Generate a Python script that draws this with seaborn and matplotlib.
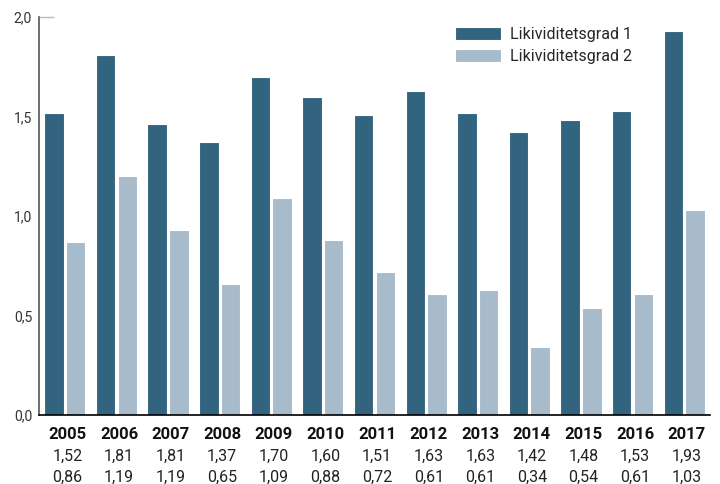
import matplotlib
matplotlib.use("Agg")
import matplotlib.pyplot as plt
import matplotlib.transforms as mtransforms
import seaborn as sns
import pandas as pd

years = ["2005", "2006", "2007", "2008", "2009", "2010", "2011",
         "2012", "2013", "2014", "2015", "2016", "2017"]
lg1 = [1.52, 1.81, 1.46, 1.37, 1.70, 1.60, 1.51, 1.63, 1.52, 1.42, 1.48, 1.53, 1.93]
lg2 = [0.87, 1.20, 0.93, 0.66, 1.09, 0.88, 0.72, 0.61, 0.63, 0.34, 0.54, 0.61, 1.03]
lg1_labels = ["1,52", "1,81", "1,81", "1,37", "1,70", "1,60", "1,51",
              "1,63", "1,63", "1,42", "1,48", "1,53", "1,93"]
lg2_labels = ["0,86", "1,19", "1,19", "0,65", "1,09", "0,88", "0,72",
              "0,61", "0,61", "0,34", "0,54", "0,61", "1,03"]
series = ["Likividitetsgrad 1", "Likividitetsgrad 2"]
yticks = [0.0, 0.5, 1.0, 1.5, 2.0]
ytick_labels = ["0,0", "0,5", "1,0", "1,5", "2,0"]

dark = "#33647f"
light = "#a7bbcb"

df = pd.DataFrame({
    "year": years * 2,
    "value": lg1 + lg2,
    "series": [series[0]] * len(years) + [series[1]] * len(years),
})

sns.set_theme(style="white")
plt.rcParams["font.family"] = ["Roboto", "DejaVu Sans"]

fig = plt.figure(figsize=(7.2, 4.84), dpi=100)
ax = fig.add_axes([39 / 720, 1 - 415 / 484, (710 - 39) / 720, (415 - 17) / 484])

sns.barplot(data=df, x="year", y="value", hue="series", order=years,
            hue_order=series, palette=[dark, light], saturation=1,
            width=0.84, gap=0.1, edgecolor="white", linewidth=0.8,
            ax=ax, legend=True)

ax.set_xlim(-0.5, len(years) - 0.5)
ax.set_ylim(0, 2.0)
ax.set_xlabel("")
ax.set_ylabel("")
ax.set_yticks(yticks)
ax.set_yticklabels(ytick_labels, fontsize=10, color="#333333")
ax.tick_params(axis="y", direction="out", length=3, width=0.8, color="#888888", pad=2)
ax.hlines(2.0, -0.5, -0.2, color="#bbbbbb", linewidth=1, clip_on=False)

ax.set_xticks([i + 0.5 for i in range(len(years))])
ax.set_xticklabels([])
ax.tick_params(axis="x", direction="in", length=6, width=1, color="black")

for s in ["top", "right"]:
    ax.spines[s].set_visible(False)
ax.spines["left"].set_color("#555555")
ax.spines["left"].set_linewidth(1.2)
ax.spines["bottom"].set_color("black")
ax.spines["bottom"].set_linewidth(1.2)

trans = mtransforms.blended_transform_factory(ax.transData, ax.transAxes)
for i, y in enumerate(years):
    ax.text(i + 0.05, -0.048, y, transform=trans, ha="center", va="center",
            fontsize=12, fontweight="bold", color="#111111")
    ax.text(i + 0.05, -0.105, lg1_labels[i], transform=trans, ha="center",
            va="center", fontsize=11.5, color="#222222")
    ax.text(i + 0.05, -0.157, lg2_labels[i], transform=trans, ha="center",
            va="center", fontsize=11.5, color="#222222")

handles, labels = ax.get_legend_handles_labels()
ax.legend(handles, labels, loc="upper left", bbox_to_anchor=(0.61, 0.99),
          frameon=False, fontsize=11.5, handlelength=2.9, handleheight=0.85,
          handletextpad=0.55, labelspacing=0.4, borderaxespad=0)

fig.savefig("out.png", dpi=100)
